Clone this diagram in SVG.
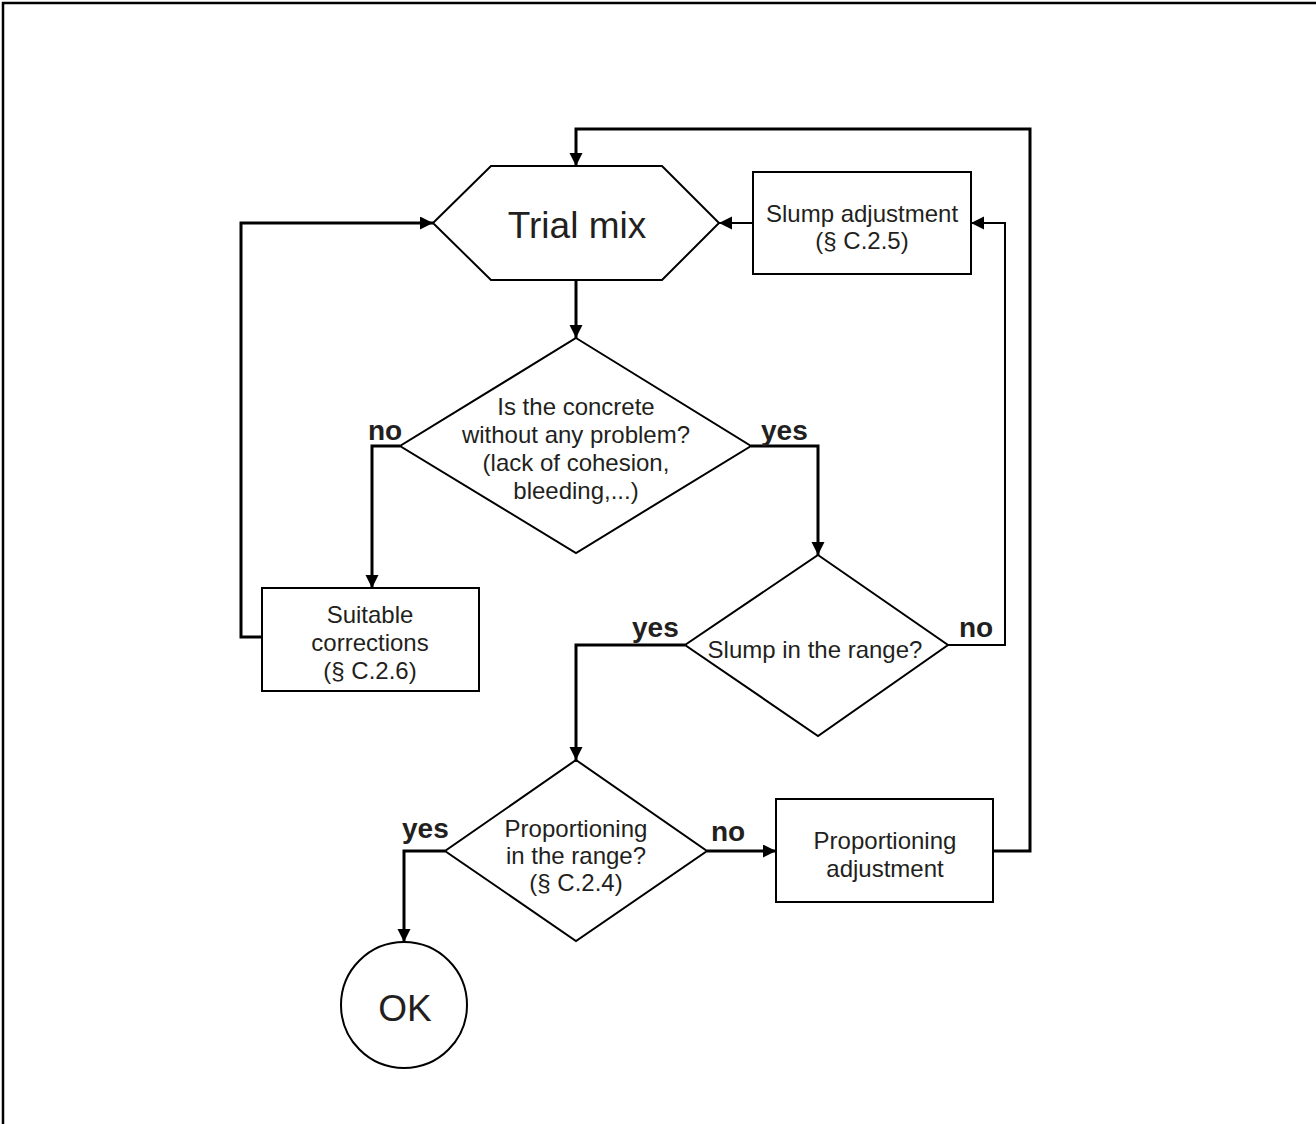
<svg xmlns="http://www.w3.org/2000/svg" width="1316" height="1124" viewBox="0 0 1316 1124">
<style>
.shape{fill:#fff;stroke:#000;stroke-width:2}
.t{font-family:"Liberation Sans",Arial,sans-serif;font-size:24px;fill:#231f20;text-anchor:middle}
.big{font-size:37px}
.lbl{font-family:"Liberation Sans",Arial,sans-serif;font-size:28px;font-weight:bold;fill:#231f20}
.c{fill:none;stroke:#000;stroke-width:3;stroke-linejoin:miter}
.c2{fill:none;stroke:#000;stroke-width:2}
</style>
<defs>
<marker id="ah" markerUnits="userSpaceOnUse" markerWidth="14" markerHeight="14" refX="13" refY="6.5" orient="auto">
<path d="M0,0 L13,6.5 L0,13 Z" fill="#000"/>
</marker>
</defs>
<rect width="1316" height="1124" fill="#fff"/>
<path d="M3,1124 V3 H1316" fill="none" stroke="#000" stroke-width="2.5"/>

<g id="trial-mix">
<polygon class="shape" points="491,166 662,166 719,223 662,280 491,280 433,223"/>
<text class="t big" x="577" y="238">Trial mix</text>
</g>
<g id="slump-adjustment">
<rect class="shape" x="753" y="172" width="218" height="102"/>
<text class="t" x="862" y="222">Slump adjustment</text>
<text class="t" x="862" y="249">(§ C.2.5)</text>
</g>
<g id="concrete-ok">
<polygon class="shape" points="576,338 751,446 576,553 400,446"/>
<text class="t" x="576" y="415">Is the concrete</text>
<text class="t" x="576" y="443">without any problem?</text>
<text class="t" x="576" y="471">(lack of cohesion,</text>
<text class="t" x="576" y="499">bleeding,...)</text>
</g>
<g id="suitable-corrections">
<rect class="shape" x="262" y="588" width="217" height="103"/>
<text class="t" x="370" y="623">Suitable</text>
<text class="t" x="370" y="651">corrections</text>
<text class="t" x="370" y="679">(§ C.2.6)</text>
</g>
<g id="slump-range">
<polygon class="shape" points="818,555 948,645 818,736 685,645"/>
<text class="t" x="815" y="658">Slump in the range?</text>
</g>
<g id="proportioning-range">
<polygon class="shape" points="576,760 707,851 576,941 445,851"/>
<text class="t" x="576" y="837">Proportioning</text>
<text class="t" x="576" y="864">in the range?</text>
<text class="t" x="576" y="891">(§ C.2.4)</text>
</g>
<g id="proportioning-adjustment">
<rect class="shape" x="776" y="799" width="217" height="103"/>
<text class="t" x="885" y="849">Proportioning</text>
<text class="t" x="885" y="877">adjustment</text>
</g>
<g id="ok">
<circle class="shape" cx="404" cy="1005" r="63"/>
<text class="t big" x="405" y="1021">OK</text>
</g>

<g id="connectors">
<path class="c" d="M576,280 V338" marker-end="url(#ah)"/>
<path class="c" d="M400,446 H372 V588" marker-end="url(#ah)"/>
<path class="c" d="M262,637 H241 V223 H433" marker-end="url(#ah)"/>
<path class="c" d="M751,446 H818 V555" marker-end="url(#ah)"/>
<path class="c2" d="M948,645 H1005 V223 H971" marker-end="url(#ah)"/>
<path class="c2" d="M753,223 H719" marker-end="url(#ah)"/>
<path class="c" d="M685,645 H576 V760" marker-end="url(#ah)"/>
<path class="c" d="M707,851 H776" marker-end="url(#ah)"/>
<path class="c" d="M445,851 H404 V942" marker-end="url(#ah)"/>
<path class="c" d="M993,851 H1030 V129 H576 V166" marker-end="url(#ah)"/>
<text class="lbl" x="368" y="440">no</text>
<text class="lbl" x="761" y="440">yes</text>
<text class="lbl" x="632" y="637">yes</text>
<text class="lbl" x="959" y="637">no</text>
<text class="lbl" x="402" y="838">yes</text>
<text class="lbl" x="711" y="841">no</text>
</g>
</svg>
